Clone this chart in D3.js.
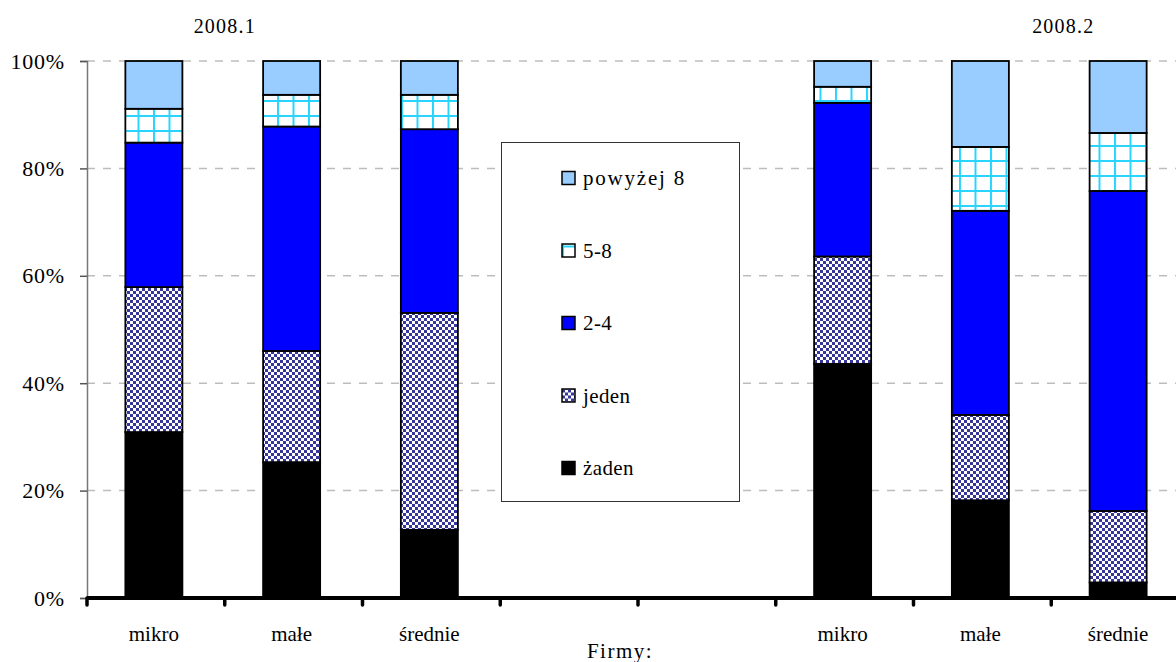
<!DOCTYPE html>
<html>
<head>
<meta charset="utf-8">
<script src="https://cdn.jsdelivr.net/npm/d3@7"></script>
<style>
  body { margin: 0; background: #fff; }
</style>
</head>
<body>
<svg id="chart" width="1176" height="662"></svg>
<script>
// categories (two survey rounds, two empty slots between them)
var slots = ["m1", "s1", "d1", "e1", "e2", "m2", "s2", "d2"];
var slotLabels = ["mikro", "małe", "średnie", "", "", "mikro", "małe", "średnie"];
var periods = ["2008.1", "2008.2"];

// series, % of firms
var zaden     = [30.9, 25.3, 12.7, 0, 0, 43.6, 18.2,  2.9];
var jeden     = [27.0, 20.7, 40.4, 0, 0, 20.0, 15.9, 13.3];
var dwaCztery = [26.9, 41.8, 34.2, 0, 0, 28.6, 38.0, 59.6];
var piecOsiem = [ 6.3,  5.9,  6.4, 0, 0,  3.0, 11.9, 10.8];
var powyzej8  = [ 8.9,  6.3,  6.3, 0, 0,  4.8, 16.0, 13.4];

var seriesNames = ["żaden", "jeden", "2-4", "5-8", "powyżej 8"];
var yTicks = [0, 20, 40, 60, 80, 100];

var FONT = "Liberation Serif";

var svg = d3.select("#chart");

//patterns
var defs = svg.append("defs");

var checker = defs.append("pattern")
	.attr("id", "checker")
	.attr("patternUnits", "userSpaceOnUse")
	.attr("width", 6).attr("height", 6);
checker.append("rect").attr("width", 6).attr("height", 6).attr("fill", "#fff");
checker.append("rect").attr("width", 3).attr("height", 3).attr("fill", "#35359a");
checker.append("rect").attr("x", 3).attr("y", 3).attr("width", 3).attr("height", 3).attr("fill", "#35359a");

var grid = defs.append("pattern")
	.attr("id", "grid")
	.attr("patternUnits", "userSpaceOnUse")
	.attr("width", 15.5).attr("height", 15);
grid.append("rect").attr("width", 15.5).attr("height", 15).attr("fill", "#fff");
grid.append("path")
	.attr("d", "M1,0V15M0,11H15.5")
	.attr("stroke", "#2ad4ff")
	.attr("stroke-width", 2);

var fills = ["#000000", "url(#checker)", "#0000ff", "url(#grid)", "#99ccff"];

//LAYOUT
var x0 = 87, yTop = 61, yBottom = 598;

var xScale = d3.scaleBand()
	.domain(slots)
	.range([x0, x0 + 8 * 137.75])
	.paddingInner(0.586)
	.paddingOuter(0.293);

var yScale = d3.scaleLinear()
	.domain([0, 100])
	.range([yBottom, yTop]);

var rows = slots.map((s, i) => ({
	slot: s,
	"żaden": zaden[i],
	"jeden": jeden[i],
	"2-4": dwaCztery[i],
	"5-8": piecOsiem[i],
	"powyżej 8": powyzej8[i]
}));

var stacked = d3.stack().keys(seriesNames)(rows);

//gridlines
svg.append("g")
	.selectAll("line")
	.data(yTicks.filter(d => d > 0))
	.enter()
	.append("line")
	.attr("x1", x0)
	.attr("x2", 1176)
	.attr("y1", d => yScale(d))
	.attr("y2", d => yScale(d))
	.attr("stroke", "#bdbdbd")
	.attr("stroke-width", 1.5)
	.attr("stroke-dasharray", "8,8");

//bars (drawn a touch left of the band centre, as in the original)
var layers = svg.append("g")
	.attr("transform", "translate(-2,0)")
	.selectAll("g")
	.data(stacked)
	.enter()
	.append("g")
	.attr("fill", (d, i) => fills[i]);

layers.selectAll("rect")
	.data(d => d.filter(p => p[1] - p[0] > 0))
	.enter()
	.append("rect")
	.attr("x", d => xScale(d.data.slot))
	.attr("y", d => yScale(d[1]))
	.attr("width", xScale.bandwidth())
	.attr("height", d => yScale(d[0]) - yScale(d[1]))
	.attr("stroke", "#000")
	.attr("stroke-width", 1.8);

//legend
var legend = svg.append("g");
legend.append("rect")
	.attr("x", 501.5).attr("y", 142.5)
	.attr("width", 238).attr("height", 359)
	.attr("fill", "#fff")
	.attr("stroke", "#333")
	.attr("stroke-width", 1);

var legendItems = legend.selectAll("g.item")
	.data(seriesNames.slice().reverse())
	.enter()
	.append("g")
	.attr("class", "item")
	.attr("transform", (d, i) => "translate(562," + (178 + i * 72.5) + ")");

legendItems.append("rect")
	.attr("x", 0).attr("y", -6.5)
	.attr("width", 13).attr("height", 13)
	.attr("fill", d => fills[seriesNames.indexOf(d)])
	.attr("stroke", "#000")
	.attr("stroke-width", 1.5);

legendItems.append("text")
	.attr("x", 21)
	.attr("y", 7)
	.style("font-family", FONT)
	.style("font-size", "21px")
	.attr("letter-spacing", d => d === "powyżej 8" ? 1.8 : 0.4)
	.text(d => d);

//y axis
var yAxis = d3.axisLeft(yScale)
	.tickValues(yTicks)
	.tickSize(7)
	.tickPadding(15)
	.tickFormat(d => d + "%");

var gy = svg.append("g")
	.attr("transform", "translate(" + x0 + ",0)")
	.call(yAxis);
gy.select(".domain").attr("stroke", "#777").attr("stroke-width", 1.5);
gy.selectAll(".tick line").attr("stroke", "#555").attr("stroke-width", 1.5);
gy.selectAll(".tick text")
	.attr("fill", "#000")
	.attr("letter-spacing", 0.8)
	.style("font-family", FONT)
	.style("font-size", "22px");

//x axis: thick baseline, ticks between categories
svg.append("line")
	.attr("x1", x0).attr("x2", 1176)
	.attr("y1", yBottom).attr("y2", yBottom)
	.attr("stroke", "#000")
	.attr("stroke-width", 4);

svg.append("g")
	.selectAll("line")
	.data(slots)
	.enter()
	.append("line")
	.attr("x1", d => xScale(d) - xScale.step() * xScale.paddingInner() / 2)
	.attr("x2", d => xScale(d) - xScale.step() * xScale.paddingInner() / 2)
	.attr("y1", yBottom)
	.attr("y2", yBottom + 7)
	.attr("stroke", "#000")
	.attr("stroke-width", 3.5)
	.attr("stroke-linecap", "round");

svg.append("g")
	.selectAll("text")
	.data(slots)
	.enter()
	.append("text")
	.attr("x", d => xScale(d) + xScale.bandwidth() / 2 - 2)
	.attr("y", 641)
	.attr("text-anchor", "middle")
	.style("font-family", FONT)
	.style("font-size", "21px")
	.text((d, i) => slotLabels[i]);

svg.append("text")
	.attr("x", 620)
	.attr("y", 658)
	.attr("text-anchor", "middle")
	.style("font-family", FONT)
	.style("font-size", "21px")
	.attr("letter-spacing", 1.5)
	.text("Firmy:");

//period labels
var periodX = [
	(xScale("m1") + xScale("s1")) / 2 + xScale.bandwidth() / 2,
	(xScale("s2") + xScale("d2")) / 2 + xScale.bandwidth() / 2 + 12
];
svg.append("g")
	.selectAll("text")
	.data(periods)
	.enter()
	.append("text")
	.attr("x", (d, i) => periodX[i])
	.attr("y", 33)
	.attr("text-anchor", "middle")
	.style("font-family", FONT)
	.style("font-size", "20px")
	.attr("letter-spacing", 1.2)
	.text(d => d);
</script>
</body>
</html>
